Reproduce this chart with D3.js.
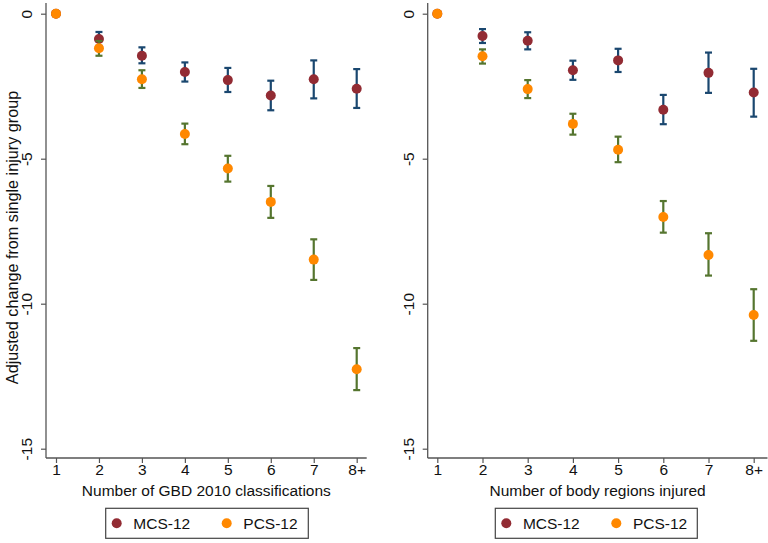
<!DOCTYPE html>
<html><head><meta charset="utf-8">
<script src="https://cdn.jsdelivr.net/npm/d3@7"></script>
<style>body{margin:0;background:#fff;} svg{display:block;font-family:"Liberation Sans",Arial,sans-serif;}</style>
</head><body>
<svg id="c" width="768" height="543"></svg>
<script>
const categories = ["1","2","3","4","5","6","7","8+"];
const yTicks = [0,-5,-10,-15];
const seriesNames = ["MCS-12","PCS-12"];

// Left panel: Number of GBD 2010 classifications
const gbdMCS    = [0, -0.87, -1.45, -2.01, -2.29, -2.82, -2.26, -2.59];
const gbdMCSlo  = [0, -1.11, -1.71, -2.34, -2.70, -3.33, -2.92, -3.25];
const gbdMCShi  = [0, -0.63, -1.16, -1.68, -1.87, -2.31, -1.61, -1.91];
const gbdPCS    = [0, -1.19, -2.26, -4.15, -5.34, -6.49, -8.48, -12.26];
const gbdPCSlo  = [0, -1.45, -2.56, -4.50, -5.79, -7.04, -9.18, -12.98];
const gbdPCShi  = [0, -0.94, -1.95, -3.79, -4.90, -5.94, -7.78, -11.53];

// Right panel: Number of body regions injured
const brMCS     = [0, -0.77, -0.93, -1.95, -1.61, -3.31, -2.04, -2.72];
const brMCSlo   = [0, -1.01, -1.23, -2.28, -2.01, -3.81, -2.73, -3.55];
const brMCShi   = [0, -0.53, -0.64, -1.62, -1.21, -2.80, -1.34, -1.90];
const brPCS     = [0, -1.47, -2.60, -3.80, -4.69, -7.01, -8.32, -10.39];
const brPCSlo   = [0, -1.72, -2.91, -4.17, -5.12, -7.55, -9.03, -11.28];
const brPCShi   = [0, -1.23, -2.29, -3.45, -4.24, -6.46, -7.57, -9.50];

const yTitle = "Adjusted change from single injury group";
const xTitles = ["Number of GBD 2010 classifications", "Number of body regions injured"];

const colMCS = "#922b33", colPCS = "#ff8800", barMCS = "#1a476f", barPCS = "#55752f";
const axisCol = "#555";
const svg = d3.select("#c");
svg.append("rect").attr("width",768).attr("height",543).attr("fill","#fff");

const panels = [
  {axisX:46, rightX:366.7, x1:56, x8:356.7, title:xTitles[0], legL:105.7, legR:308.3,
   mcs:gbdMCS, mlo:gbdMCSlo, mhi:gbdMCShi, pcs:gbdPCS, plo:gbdPCSlo, phi:gbdPCShi, ytitle:true},
  {axisX:427.7, rightX:767.5, x1:437.3, x8:753.7, title:xTitles[1], legL:495.3, legR:697.3,
   mcs:brMCS, mlo:brMCSlo, mhi:brMCShi, pcs:brPCS, plo:brPCSlo, phi:brPCShi, ytitle:false}
];

const yTop = 3, yBot = 458;
const y = d3.scaleLinear().domain([0,-15]).range([13.7,448.7]);
const fs = 15.5;

panels.forEach(p => {
  const x = d3.scaleLinear().domain([0,7]).range([p.x1,p.x8]);
  const g = svg.append("g");

  // y axis
  const ya = d3.axisLeft(y).tickValues(yTicks).tickSize(5).tickPadding(0).tickFormat(d3.format("d"));
  const yg = g.append("g").attr("transform",`translate(${p.axisX},0)`).call(ya);
  yg.select(".domain").remove();
  yg.selectAll(".tick line").attr("stroke",axisCol).attr("stroke-width",1.2);
  yg.selectAll(".tick text").attr("transform","translate(-19,0) rotate(-90)")
    .attr("x",0).attr("dy","0.35em").attr("text-anchor","middle")
    .attr("font-size",fs).attr("fill","#111").text(d => d===0 ? "0" : "-" + Math.abs(d));
  g.append("line").attr("x1",p.axisX).attr("x2",p.axisX).attr("y1",yTop).attr("y2",yBot)
    .attr("stroke",axisCol).attr("stroke-width",1.3);

  // x axis
  const xa = d3.axisBottom(x).tickValues(d3.range(categories.length)).tickSize(5).tickPadding(1)
    .tickFormat(i => categories[i]);
  const xg = g.append("g").attr("transform",`translate(0,${yBot})`).call(xa);
  xg.select(".domain").remove();
  xg.selectAll(".tick line").attr("stroke",axisCol).attr("stroke-width",1.2);
  xg.selectAll(".tick text").attr("font-size",fs).attr("fill","#111");
  g.append("line").attr("x1",p.axisX).attr("x2",p.rightX).attr("y1",yBot).attr("y2",yBot)
    .attr("stroke",axisCol).attr("stroke-width",1.3);

  g.append("text").attr("x",(p.axisX+p.rightX)/2).attr("y",496).attr("text-anchor","middle")
    .attr("font-size",fs).attr("fill","#111").text(p.title);

  if (p.ytitle) {
    g.append("text").attr("transform",`translate(18,237.5) rotate(-90)`)
      .attr("text-anchor","middle").attr("font-size",16.2).attr("fill","#111").text(yTitle);
  }

  function drawBars(vals, lo, hi, col) {
    const idx = d3.range(vals.length).filter(i => lo[i] !== hi[i]);
    const bg = g.append("g").attr("stroke",col).attr("stroke-width",2.2);
    bg.selectAll(".v").data(idx).join("line").attr("x1",i=>x(i)).attr("x2",i=>x(i))
      .attr("y1",i=>y(hi[i])).attr("y2",i=>y(lo[i]));
    bg.selectAll(".t").data(idx).join("line").attr("x1",i=>x(i)-3.5).attr("x2",i=>x(i)+3.5)
      .attr("y1",i=>y(hi[i])).attr("y2",i=>y(hi[i]));
    bg.selectAll(".b").data(idx).join("line").attr("x1",i=>x(i)-3.5).attr("x2",i=>x(i)+3.5)
      .attr("y1",i=>y(lo[i])).attr("y2",i=>y(lo[i]));
  }
  function drawDots(vals, col) {
    g.append("g").selectAll("circle").data(vals).join("circle")
      .attr("cx",(d,i)=>x(i)).attr("cy",d=>y(d)).attr("r",5).attr("fill",col);
  }
  drawBars(p.mcs,p.mlo,p.mhi,barMCS);
  drawDots(p.mcs,colMCS);
  drawBars(p.pcs,p.plo,p.phi,barPCS);
  drawDots(p.pcs,colPCS);

  // legend
  const lg = g.append("g");
  lg.append("rect").attr("x",p.legL).attr("y",508.3).attr("width",p.legR-p.legL).attr("height",30)
    .attr("fill","#fff").attr("stroke","#444").attr("stroke-width",1.2);
  const lcols = [colMCS,colPCS];
  const offs = [[11,27.6],[121,137.6]];
  seriesNames.forEach((n,k) => {
    lg.append("circle").attr("cx",p.legL+offs[k][0]).attr("cy",523.3).attr("r",5).attr("fill",lcols[k]);
    lg.append("text").attr("x",p.legL+offs[k][1]).attr("y",523.3).attr("dy","0.35em")
      .attr("font-size",fs).attr("fill","#111").text(n);
  });
});
</script>
</body></html>
